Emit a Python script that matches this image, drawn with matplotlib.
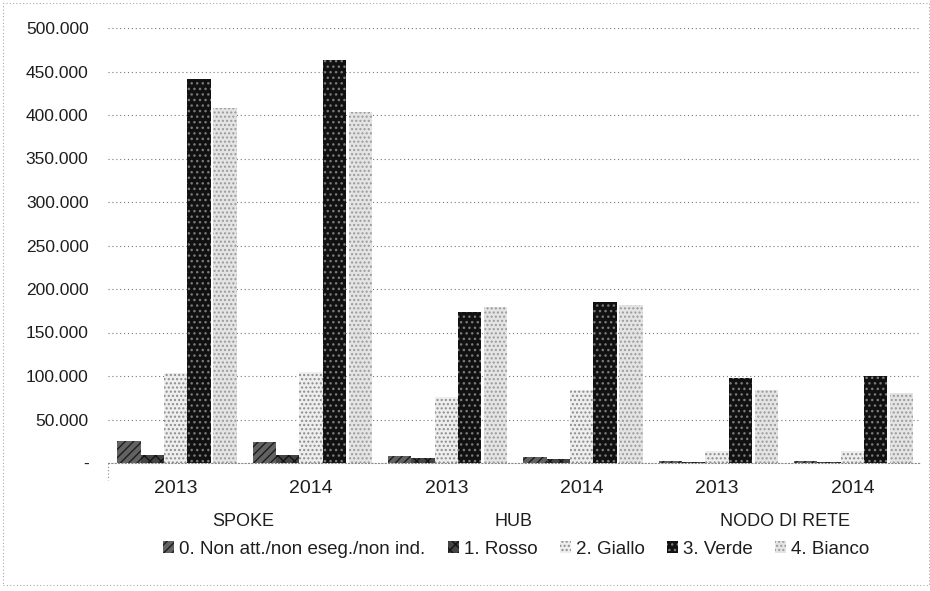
import matplotlib
matplotlib.use('Agg')
import matplotlib.pyplot as plt
from matplotlib.patches import Rectangle
from matplotlib.lines import Line2D
import numpy as np

plt.rcParams['font.family'] = ['Liberation Sans', 'DejaVu Sans']

# dati
anni = ['2013', '2014', '2013', '2014', '2013', '2014']
gruppi = ['SPOKE', 'HUB', 'NODO DI RETE']
serie = ['0. Non att./non eseg./non ind.', '1. Rosso', '2. Giallo', '3. Verde', '4. Bianco']
non_att = [25000, 24000, 8000, 7000, 2000, 2000]
rosso = [9000, 9000, 6000, 5000, 1000, 1000]
giallo = [103000, 105000, 76000, 84000, 14000, 14000]
verde = [441000, 463000, 174000, 185000, 98000, 100000]
bianco = [408000, 404000, 179000, 182000, 84000, 80000]
y_ticks = [0, 50000, 100000, 150000, 200000, 250000, 300000, 350000, 400000, 450000, 500000]

valori = [non_att, rosso, giallo, verde, bianco]
# stile in scala di grigi (scansione)
stili = [
    dict(facecolor='#626262', edgecolor='#1e1e1e', hatch='////'),
    dict(facecolor='#444444', edgecolor='#141414', hatch='xxx'),
    dict(facecolor='#eeeeee', edgecolor='#8c8c8c', hatch='....'),
    dict(facecolor='#111111', edgecolor='#7a7a7a', hatch='...'),
    dict(facecolor='#e4e4e4', edgecolor='#9a9a9a', hatch='....'),
]

W, H = 930, 591
fig = plt.figure(figsize=(W / 100, H / 100), dpi=100)
x0, x1 = 108, 920
ytop, ybot = 28, 463
ax = fig.add_axes([x0 / W, 1 - ybot / H, (x1 - x0) / W, (ybot - ytop) / H])

x = np.arange(len(anni))
bw = 0.172
for i, (v, st) in enumerate(zip(valori, stili)):
    off = (i - 2) * bw + (0.02 if i == 4 else 0)
    ax.bar(x + off, v, bw, linewidth=0, label=serie[i], zorder=2, **st)

ax.set_xlim(-0.5, len(anni) - 0.5)
ax.set_ylim(0, 500000)
ax.set_yticks(y_ticks)
ax.set_yticklabels(['-' if t == 0 else f'{t:,}'.replace(',', '.') for t in y_ticks])
ax.set_xticks(x)
ax.set_xticklabels(anni)
ax.tick_params(axis='both', length=0, colors='#1e1e1e')
ax.tick_params(axis='y', pad=14, labelsize=12.5)
ax.tick_params(axis='x', pad=12, labelsize=14)

ax.grid(axis='y', linestyle=(0, (1, 2.5)), color='#777777', linewidth=0.8, zorder=0)
for s in ['top', 'right', 'left']:
    ax.spines[s].set_visible(False)
ax.spines['bottom'].set_linestyle((0, (1, 2)))
ax.spines['bottom'].set_color('#888888')

# etichette dei gruppi
trans = ax.get_xaxis_transform()
for k, g in enumerate(gruppi):
    ax.text(2 * k + 0.5, -0.135, g, transform=trans, ha='center', va='center',
            fontsize=13, color='#1e1e1e')

# piccolo separatore sotto l'asse
fig.add_artist(Line2D([x0 / W, x0 / W], [1 - 463 / H, 1 - 480 / H], color='#888888',
                      linestyle=(0, (1, 2)), linewidth=0.8))

# cornice tratteggiata della scansione
fig.add_artist(Rectangle((3 / W, 6 / H), (W - 4) / W, (H - 9) / H, fill=False,
                         edgecolor='#aaaaaa', linestyle=(0, (1, 2)), linewidth=0.8))

fig.legend(loc='center', bbox_to_anchor=(0.555, 1 - 549 / H), ncol=5, frameon=False,
           fontsize=13.5, handlelength=0.6, handleheight=0.6, handletextpad=0.25,
           columnspacing=1.2, labelcolor='#1e1e1e')

fig.savefig('out.png', dpi=100)
